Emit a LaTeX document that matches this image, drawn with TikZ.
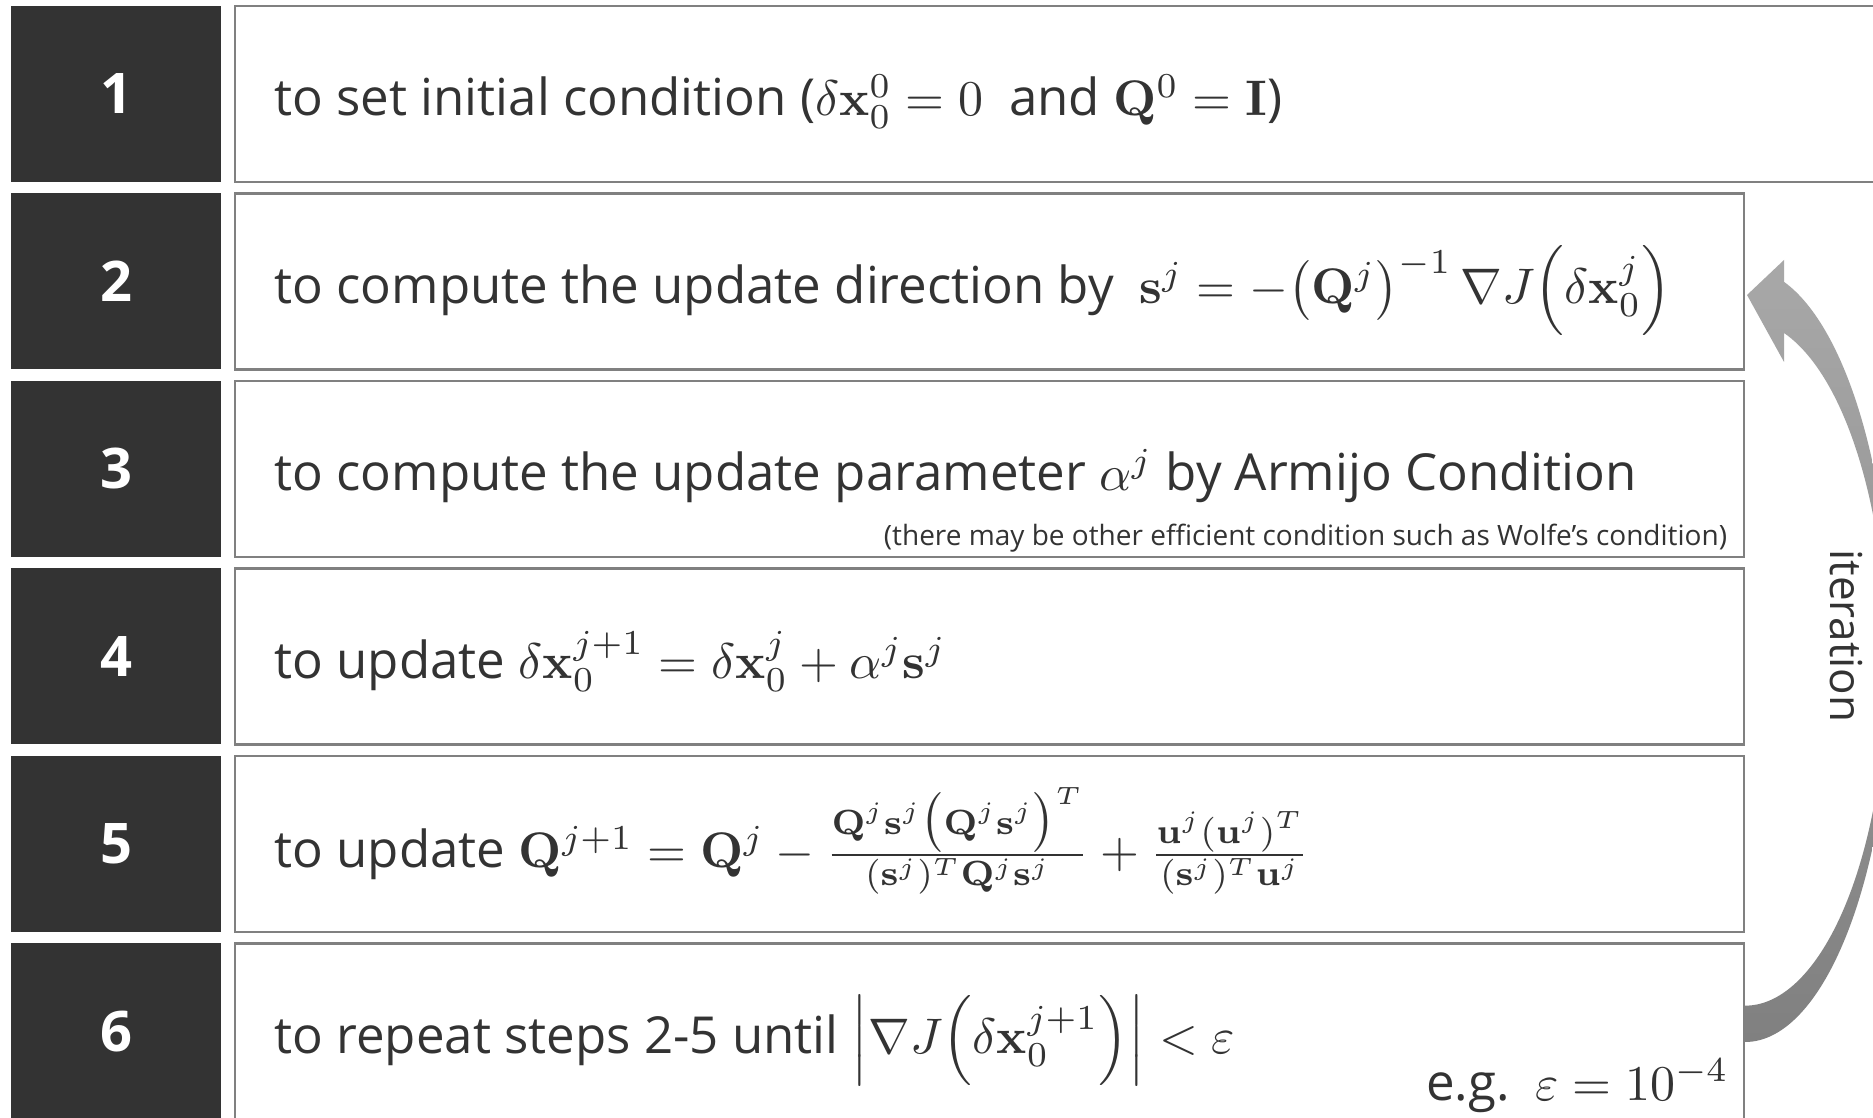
\documentclass[tikz,border=0pt]{standalone}
\usepackage{amsmath}
\usepackage[no-math]{fontspec}
\setmainfont{Open Sans}
\definecolor{darkbox}{RGB}{51,51,51}
\definecolor{txt}{RGB}{51,51,51}
\definecolor{framegray}{RGB}{128,128,128}
\definecolor{arrlight}{RGB}{168,168,168}
\definecolor{arrdark}{RGB}{128,128,128}
\begin{document}
\begin{tikzpicture}[x=0.2pt,y=0.2pt,
  numbox/.style={fill=darkbox, minimum width=42pt, minimum height=35.2pt, inner sep=0pt, text=white, font=\fontsize{11.2}{13}\selectfont\bfseries},
  stepbox/.style={draw=framegray, line width=0.55pt, fill=white, minimum height=35.2pt, inner sep=0pt},
  steptext/.style={anchor=base west, inner sep=0pt, text=txt, font=\fontsize{10.2}{12}\selectfont},
  note/.style={anchor=base east, inner sep=0pt, text=txt, font=\fontsize{5.6}{6.5}\selectfont}]
\useasboundingbox (0,0) rectangle (1873,1117);
\fill[white] (0,0) rectangle (1873,1117);
\clip (0,0) rectangle (1873,1117);
% row 1
\node[numbox] (n1) at (116,1023) {1};
\node[stepbox, minimum width=330pt] (b1) at (1060,1023) {};
\node[steptext] (t1) at (273.5,1001) {to set initial condition ($\delta\mathbf{x}_0^0=0$\enspace and $\mathbf{Q}^0=\mathbf{I}$)};
% row 2
\node[numbox] (n2) at (116,835.5) {2};
\node[stepbox, minimum width=301.8pt] (b2) at (989.5,835.5) {};
\node[steptext] (t2) at (273.5,813.5) {to compute the update direction by\enspace $\mathbf{s}^j=-\bigl(\mathbf{Q}^j\bigr)^{-1}\,\nabla J\Bigl(\delta\mathbf{x}_0^j\Bigr)$};
% row 3
\node[numbox] (n3) at (116,648) {3};
\node[stepbox, minimum width=301.8pt] (b3) at (989.5,648) {};
\node[steptext] (t3) at (273.5,626) {to compute the update parameter $\alpha^j$ by Armijo Condition};
\node[note] (c3) at (1728,571) {(there may be other efficient condition such as Wolfe’s condition)};
% row 4
\node[numbox] (n4) at (116,460.5) {4};
\node[stepbox, minimum width=301.8pt] (b4) at (989.5,460.5) {};
\node[steptext] (t4) at (273.5,438.5) {to update $\delta\mathbf{x}_0^{j+1}=\delta\mathbf{x}_0^j+\alpha^j\mathbf{s}^j$};
% row 5
\node[numbox] (n5) at (116,273) {5};
\node[stepbox, minimum width=301.8pt] (b5) at (989.5,273) {};
\node[steptext] (t5) at (273.5,249) {to update $\mathbf{Q}^{j+1}=\mathbf{Q}^j-\frac{\mathbf{Q}^j\mathbf{s}^j\bigl(\mathbf{Q}^j\mathbf{s}^j\bigr)^T}{(\mathbf{s}^j)^T\mathbf{Q}^j\mathbf{s}^j}+\frac{\mathbf{u}^j(\mathbf{u}^j)^T}{(\mathbf{s}^j)^T\mathbf{u}^j}$};
% row 6
\node[numbox] (n6) at (116,85.5) {6};
\node[stepbox, minimum width=301.8pt] (b6) at (989.5,85.5) {};
\node[steptext] (t6) at (273.5,63.5) {to repeat steps 2-5 until $\Bigl|\nabla J\Bigl(\delta\mathbf{x}_0^{j+1}\Bigr)\Bigr|<\varepsilon$};
\node[steptext] (e6) at (1425,17) {e.g.\enspace $\varepsilon=10^{-4}$};
% iteration arrow
\shade[top color=arrlight, bottom color=arrdark]
  (1745,75) arc[start angle=-90, end angle=74.6, x radius=29.4pt, y radius=77.4pt]
  -- (1784,857) -- (1747,822) -- (1784,755) -- (1784,784)
  arc[start angle=74, end angle=-90, x radius=28.4pt, y radius=68.6pt] -- cycle;
\node[rotate=-90, text=txt, font=\fontsize{8.8}{10}\selectfont] (it) at (1846,481) {iteration};
\end{tikzpicture}
\end{document}
